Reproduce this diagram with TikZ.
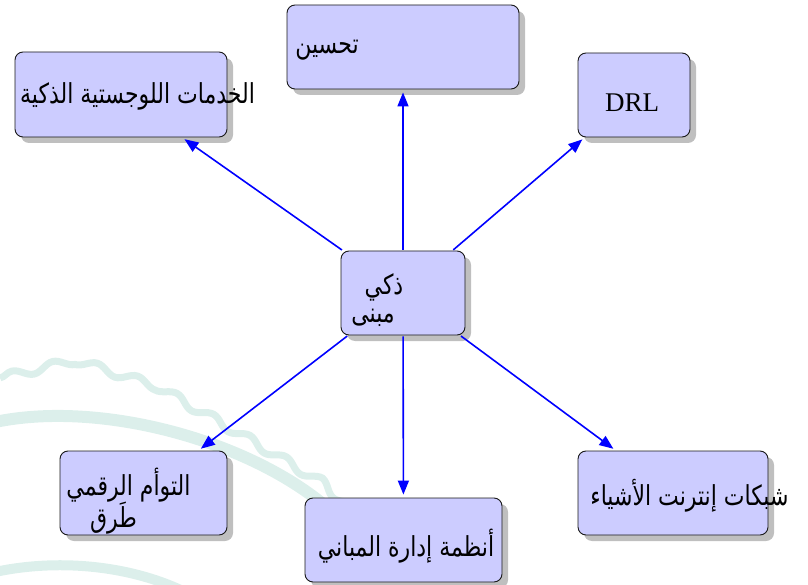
\documentclass[tikz,border=0pt]{standalone}
\usepackage{fontspec}
\setmainfont{Liberation Serif}
\newfontfamily\arabicfont[Script=Arabic]{DejaVu Sans}
\TeXXeTstate=1
\usetikzlibrary{arrows.meta,shadows,decorations.pathmorphing}

\definecolor{boxfill}{RGB}{204,204,255}
\definecolor{linkblue}{RGB}{0,0,255}
\definecolor{sealteal}{RGB}{220,239,235}

% Arabic text, set right to left and drawn a little taller
\newcommand{\artext}[1]{\scalebox{1}[1.25]{\arabicfont\beginR #1\endR}}

\begin{document}
\begin{tikzpicture}[x=1pt,y=-1pt,
  topic/.style={draw=black!90, line width=0.9pt, fill=boxfill,
    rounded corners=8pt, inner sep=0pt,
    drop shadow={shadow xshift=6pt, shadow yshift=-6pt, fill=black!25, opacity=1}},
  lbl/.style={inner sep=0pt, font=\fontsize{22}{26}\selectfont},
  link/.style={draw=linkblue, line width=1.6pt,
    -{Triangle[length=14pt,width=11pt]}, shorten >=3pt, shorten <=1pt}]

\useasboundingbox (0,0) rectangle (808,585);

% faint seal in the background
\begin{scope}
\clip (0,0) rectangle (808,585);
\draw[sealteal, line width=7pt, decorate,
      decoration={snake, amplitude=4pt, segment length=42pt}]
  (0,378) -- (68,362) -- (140,385) -- (210,425) -- (300,478) -- (365,534) -- (406,592);
\draw[sealteal, line width=12pt]
  (-5,422) .. controls (100,400) and (250,440) .. (330,510) .. controls (360,540) and (380,570) .. (392,600);
\draw[sealteal, line width=10pt]
  (-5,572) .. controls (60,558) and (140,565) .. (200,600);
\end{scope}

% boxes
\node[topic, minimum width=212pt, minimum height=85pt] (tl) at (121,94.5) {};
\node[topic, minimum width=232pt, minimum height=84pt] (tp) at (403,47) {};
\node[topic, minimum width=112pt, minimum height=84pt] (drl) at (634,95) {};
\node[topic, minimum width=124pt, minimum height=84pt] (c) at (403,293) {};
\node[topic, minimum width=167pt, minimum height=84pt] (bl) at (143.5,493) {};
\node[topic, minimum width=197pt, minimum height=84pt] (bc) at (403.5,540) {};
\node[topic, minimum width=190pt, minimum height=84pt] (br) at (673,493) {};

% labels
\node[lbl] (tl-t) at (137.5,96) {\artext{الخدمات اللوجستية الذكية}};
\node[lbl] (tp-t) at (327,50) {\artext{تحسين}};
\node[lbl, font=\fontsize{27}{30}\selectfont] (drl-t) at (632,103) {DRL};
\node[lbl] (c-t1) at (384,287) {\artext{ذكي}};
\node[lbl] (c-t2) at (373,318) {\artext{مبنى}};
\node[lbl] (bl-t1) at (128.5,485) {\artext{التوأم الرقمي}};
\node[lbl] (bl-t2) at (113.5,518) {\artext{طَرق}};
\node[lbl] (bc-t) at (406,546) {\artext{أنظمة إدارة المباني}};
\node[lbl] (br-t) at (689.5,496) {\artext{شبكات إنترنت الأشياء}};

% connectors
\draw[link] (c) -- (tl);
\draw[link] (c) -- (tp);
\draw[link] (c) -- (drl);
\draw[link] (c) -- (bl);
\draw[link] (c) -- (bc);
\draw[link] (c) -- (br);
\end{tikzpicture}
\end{document}
